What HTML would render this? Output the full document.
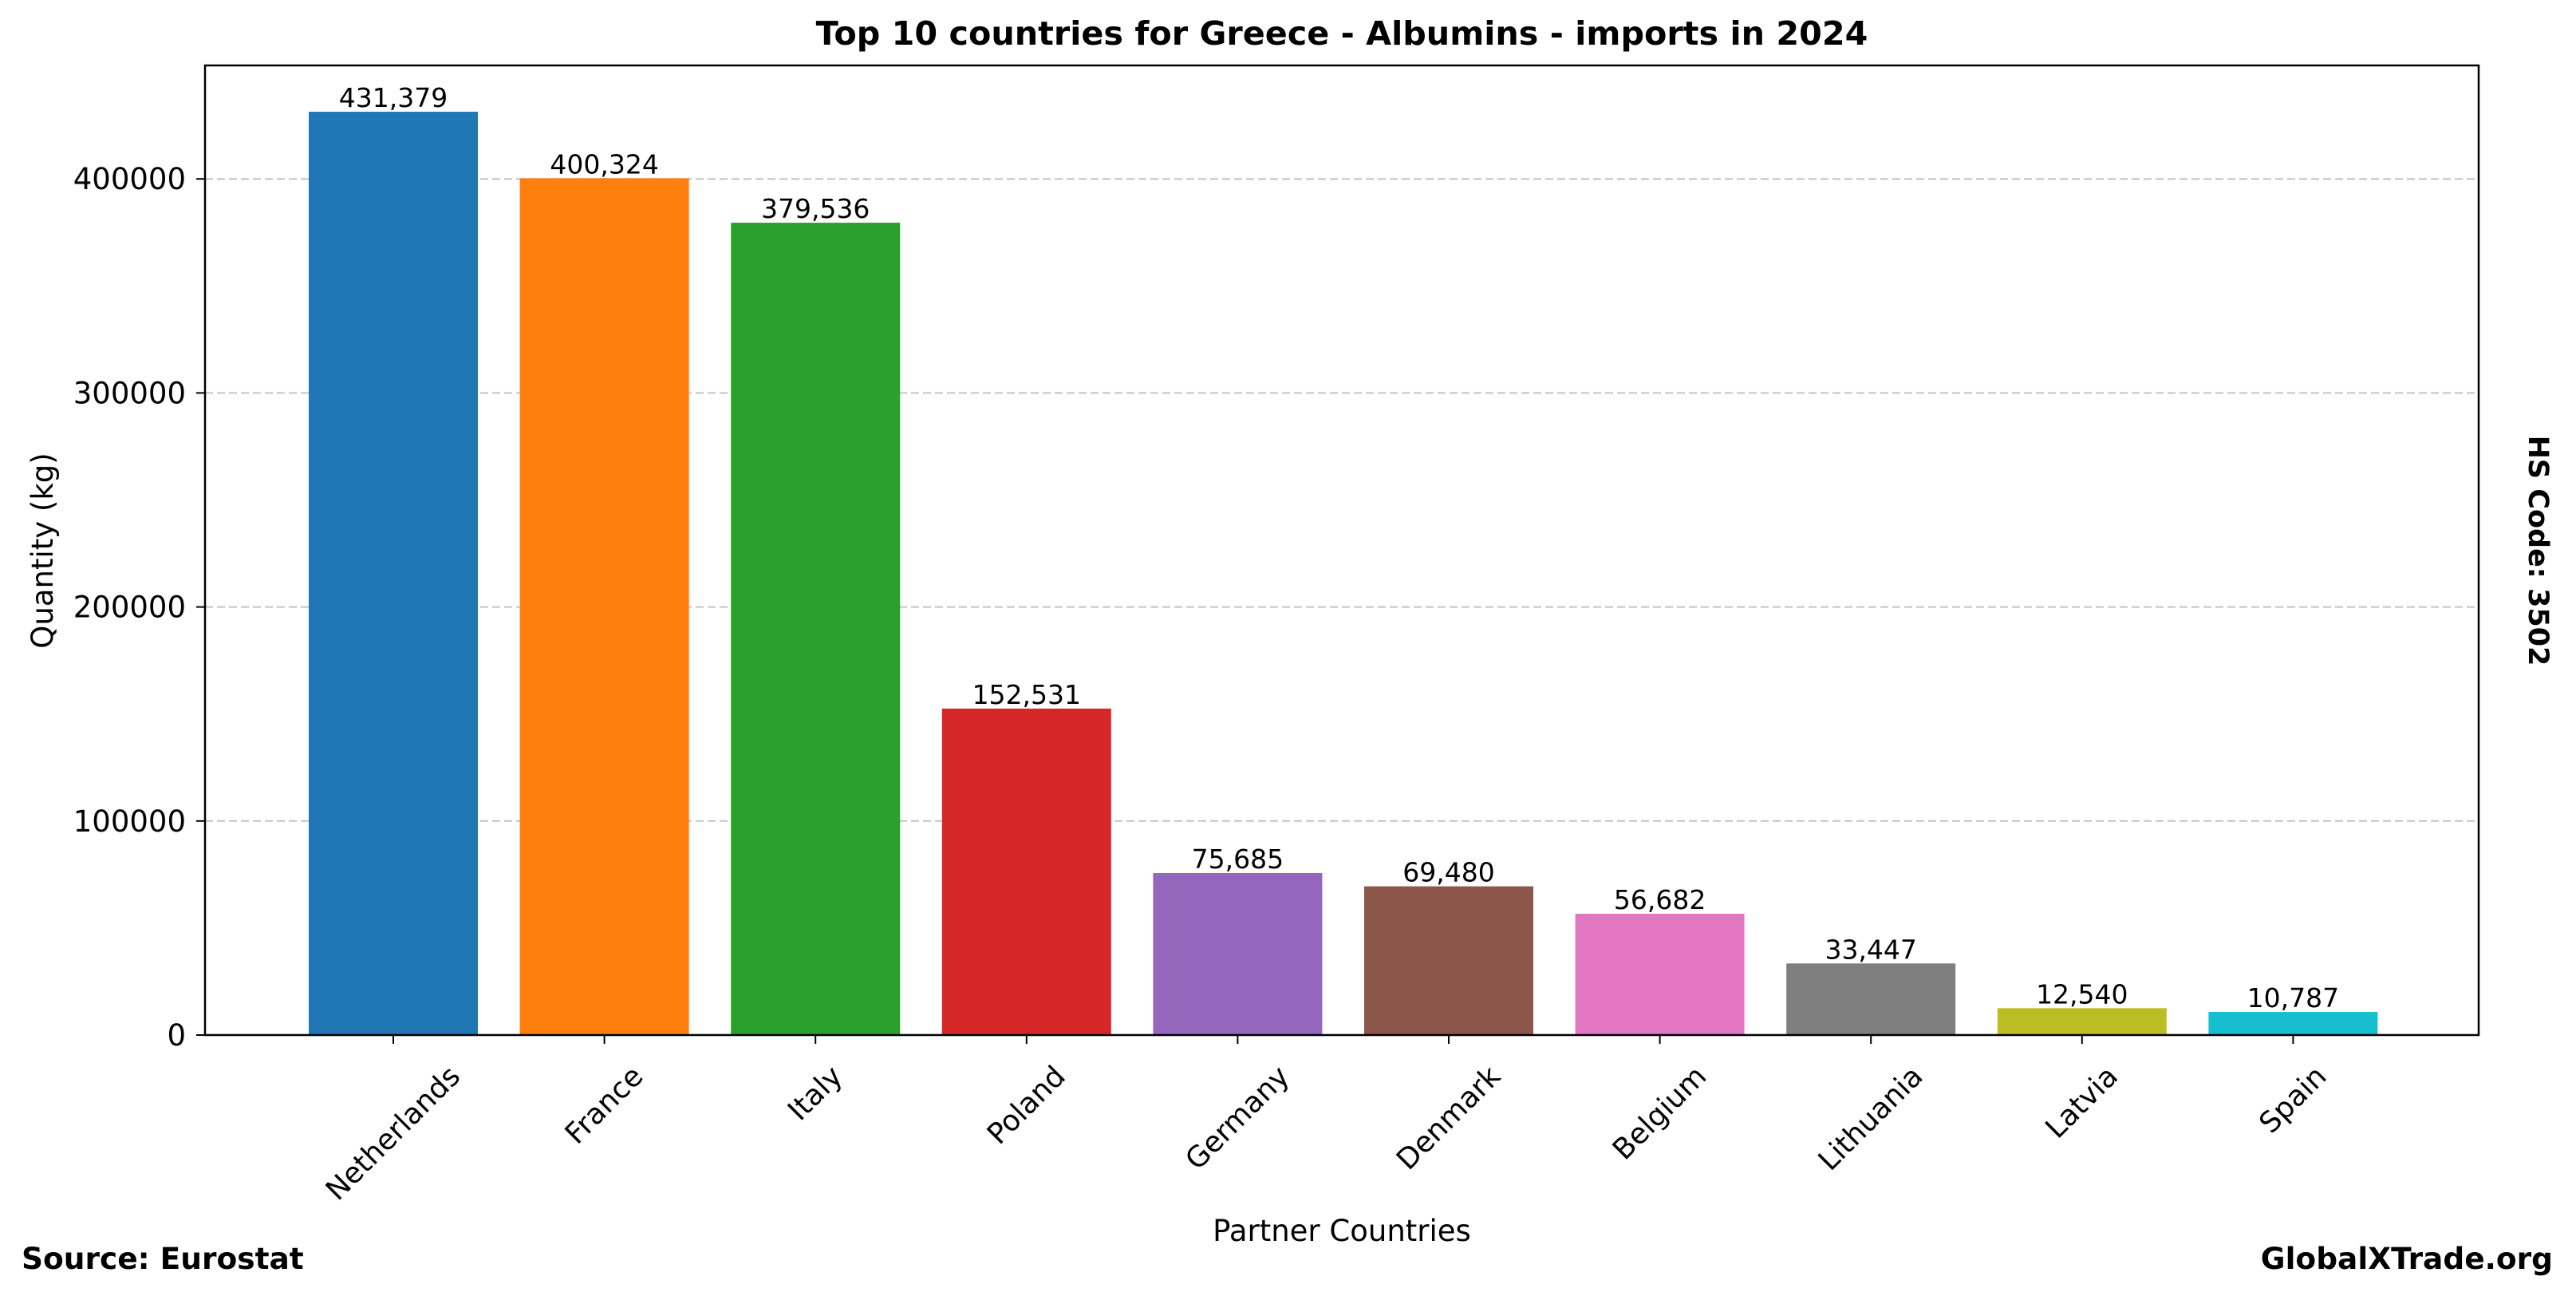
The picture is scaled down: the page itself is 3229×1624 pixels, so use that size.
<!DOCTYPE html>
<html><head><meta charset="utf-8"><style>
html,body{margin:0;padding:0;background:#fff;}
svg{display:block;font-family:"DejaVu Sans","Liberation Sans",sans-serif;}
</style></head><body>
<svg id="s" width="3229" height="1624" viewBox="0 0 3229 1624" xmlns="http://www.w3.org/2000/svg">
<rect width="3229" height="1624" fill="#fff"/>
<text x="1682" y="56" font-size="41.3" font-weight="bold" text-anchor="middle">Top 10 countries for Greece - Albumins - imports in 2024</text>
<g id="g"></g>
<rect x="257" y="82" width="2850" height="1215" fill="none" stroke="#000" stroke-width="2.5"/>
<text x="1682" y="1555" font-size="37" text-anchor="middle">Partner Countries</text>
<text transform="translate(66,690) rotate(-90)" font-size="37" text-anchor="middle">Quantity (kg)</text>
<text transform="translate(3170,690) rotate(90)" font-size="35" font-weight="bold" text-anchor="middle">HS Code: 3502</text>
<text x="27" y="1590" font-size="37.5" font-weight="bold">Source: Eurostat</text>
<text x="3200" y="1590" font-size="37.5" font-weight="bold" text-anchor="end">GlobalXTrade.org</text>
</svg>
<script>
var g=document.getElementById('g'),ns='http://www.w3.org/2000/svg';
function el(t,a,txt){var e=document.createElementNS(ns,t);for(var k in a)e.setAttribute(k,a[k]);if(txt!==undefined)e.textContent=txt;g.appendChild(e);return e;}
var y0=1297,k=268.2/100000;
for(var v=0;v<=400000;v+=100000){var y=y0-v*k;
 if(v>0)el('line',{x1:257,x2:3107,y1:y,y2:y,stroke:'#c4c4c4','stroke-width':2,'stroke-dasharray':'10,5'});
 el('line',{x1:246,x2:257,y1:y,y2:y,stroke:'#000','stroke-width':2});
 el('text',{x:233,y:y+13,'font-size':37,'text-anchor':'end'},String(v));}
var d=[['Netherlands',431379,'#1f77b4'],['France',400324,'#ff7f0e'],['Italy',379536,'#2ca02c'],['Poland',152531,'#d62728'],['Germany',75685,'#9467bd'],['Denmark',69480,'#8c564b'],['Belgium',56682,'#e377c2'],['Lithuania',33447,'#7f7f7f'],['Latvia',12540,'#bcbd22'],['Spain',10787,'#17becf']];
d.forEach(function(r,i){var cx=493+264.6*i,h=r[1]*k;
 el('rect',{x:cx-106,y:y0-h,width:212,height:h,fill:r[2]});
 el('text',{x:cx,y:y0-h-6,'font-size':33,'text-anchor':'middle'},r[1].toLocaleString('en-US'));
 el('line',{x1:cx,x2:cx,y1:y0,y2:y0+11,stroke:'#000','stroke-width':2});
 var t=el('text',{x:0,y:0,'font-size':36,'text-anchor':'middle','dominant-baseline':'central'},r[0]);
 var w=t.getComputedTextLength();var bh=(w+36)*0.7071;var cy=1330+bh/2;
 t.setAttribute('transform','translate('+cx+','+cy+') rotate(-45)');
});
</script>
</body></html>
